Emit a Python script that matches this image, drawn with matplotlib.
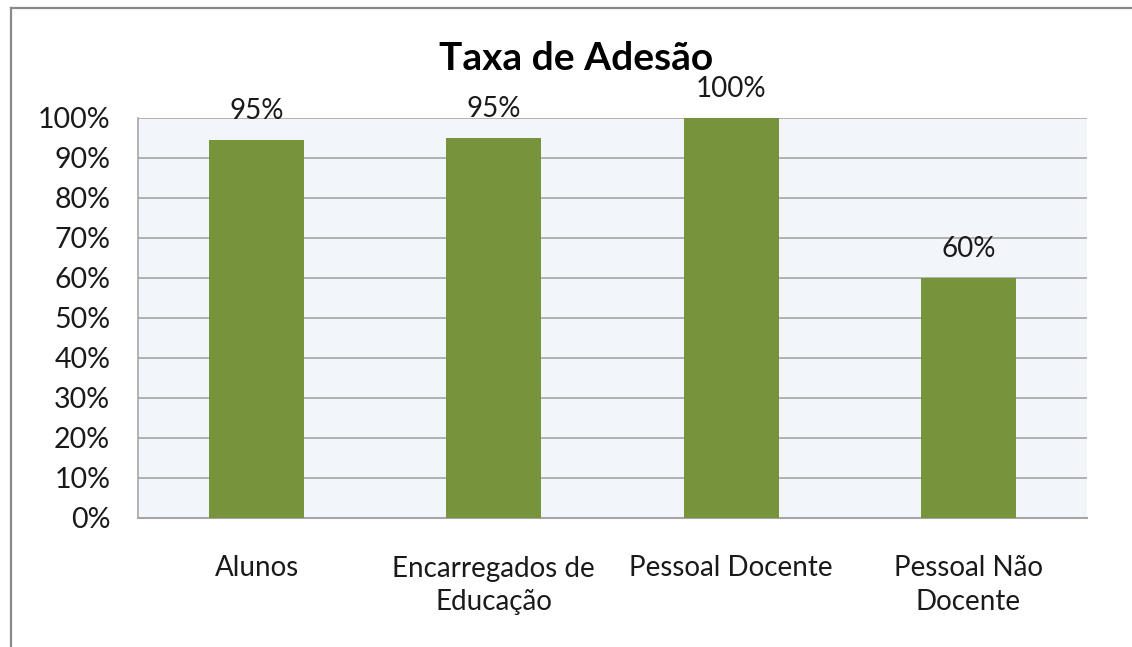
import matplotlib
matplotlib.use("Agg")
import matplotlib.pyplot as plt
from matplotlib.lines import Line2D
import numpy as np

categories = ["Alunos", "Encarregados de\nEducação", "Pessoal Docente", "Pessoal Não\nDocente"]
values = [94.5, 95.0, 100.0, 60.0]
value_labels = ["95%", "95%", "100%", "60%"]
yticks = list(range(0, 101, 10))

plt.rcParams["font.family"] = ["Lato", "DejaVu Sans"]

W, H = 1132, 647
fig = plt.figure(figsize=(W / 100, H / 100), dpi=100)
fig.patch.set_facecolor("white")

# outer chart border (only left and top edges are visible)
bx, by = 10.5 / W, 1 - 8 / H
fig.add_artist(Line2D([bx, bx], [0, by], transform=fig.transFigure, color="#8a8a8a", linewidth=1.6))
fig.add_artist(Line2D([bx, 1], [by, by], transform=fig.transFigure, color="#8a8a8a", linewidth=1.6))

ax = fig.add_axes([138 / W, 1 - 518 / H, 949 / W, 400 / H])
ax.set_facecolor("#F2F5FA")

x = np.arange(len(categories))
bars = ax.bar(x, values, width=0.4, color="#77933C", zorder=3)

ax.set_xlim(-0.5, len(categories) - 0.5)
ax.set_ylim(0, 100)
ax.set_yticks(yticks)
ax.set_yticklabels([f"{t}%" for t in yticks])
ax.yaxis.grid(True, color="#A6A6A6", linewidth=1.2, zorder=1)
ax.set_axisbelow(True)

ax.set_xticks(x)
ax.set_xticklabels(categories, linespacing=1.35)
ax.tick_params(axis="y", length=0, pad=20, labelsize=20.5, labelcolor="#1a1a1a")
ax.tick_params(axis="x", length=0, pad=27, labelsize=20, labelcolor="#1a1a1a")

for s in ["top", "right"]:
    ax.spines[s].set_visible(False)
ax.spines["left"].set_color("#A6A6A6")
ax.spines["bottom"].set_color("#A6A6A6")
ax.spines["left"].set_linewidth(1.2)
ax.spines["bottom"].set_linewidth(1.5)

for b, lab in zip(bars, value_labels):
    ax.annotate(lab, (b.get_x() + b.get_width() / 2, b.get_height()),
                xytext=(0, 15), textcoords="offset points",
                ha="center", va="baseline", fontsize=20, color="#1a1a1a")

fig.text(576 / W, 1 - 70 / H, "Taxa de Adesão", ha="center", va="baseline",
         fontsize=28, fontweight="bold", color="black")

fig.savefig("out.png", dpi=100)
